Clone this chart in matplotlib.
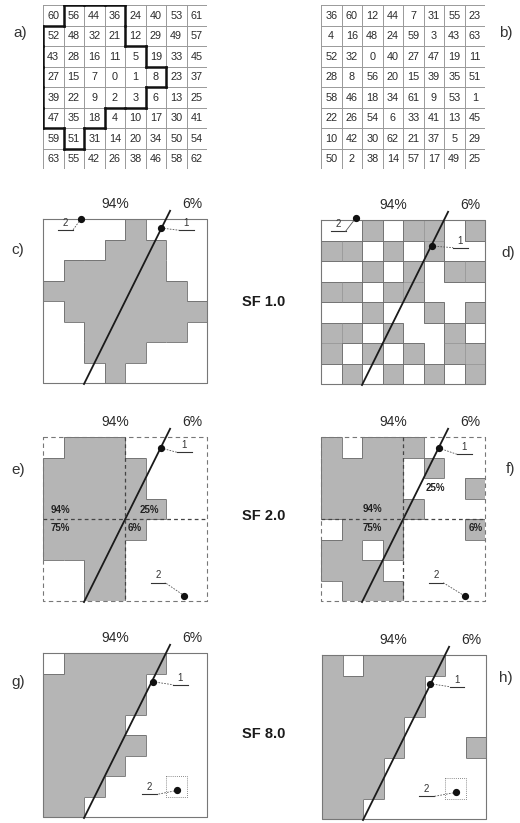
import matplotlib
matplotlib.use('Agg')
import matplotlib.pyplot as plt
import numpy as np
from matplotlib.patches import Rectangle
from matplotlib.collections import LineCollection

plt.rcParams['font.family'] = ['Liberation Sans', 'DejaVu Sans']

# ---------------- data ----------------
clustered = [[60, 56, 44, 36, 24, 40, 53, 61],
             [52, 48, 32, 21, 12, 29, 49, 57],
             [43, 28, 16, 11, 5, 19, 33, 45],
             [27, 15, 7, 0, 1, 8, 23, 37],
             [39, 22, 9, 2, 3, 6, 13, 25],
             [47, 35, 18, 4, 10, 17, 30, 41],
             [59, 51, 31, 14, 20, 34, 50, 54],
             [63, 55, 42, 26, 38, 46, 58, 62]]

dispersed = [[36, 60, 12, 44, 7, 31, 55, 23],
             [4, 16, 48, 24, 59, 3, 43, 63],
             [52, 32, 0, 40, 27, 47, 19, 11],
             [28, 8, 56, 20, 15, 39, 35, 51],
             [58, 46, 18, 34, 61, 9, 53, 1],
             [22, 26, 54, 6, 33, 41, 13, 45],
             [10, 42, 30, 62, 21, 37, 5, 29],
             [50, 2, 38, 14, 57, 17, 49, 25]]

# outlined region in panel a)
region_a = [[0, 1, 1, 1, 0, 0, 0, 0],
            [1, 1, 1, 1, 0, 0, 0, 0],
            [1, 1, 1, 1, 1, 0, 0, 0],
            [1, 1, 1, 1, 1, 1, 0, 0],
            [1, 1, 1, 1, 1, 0, 0, 0],
            [1, 1, 1, 0, 0, 0, 0, 0],
            [0, 1, 0, 0, 0, 0, 0, 0],
            [0, 0, 0, 0, 0, 0, 0, 0]]

level_sf1 = [[50]]                 # one level for the whole cell
level_sf2 = [[94, 25], [75, 6]]    # quadrant levels (%)
quad_labels = ['94%', '25%', '75%', '6%']

mask_g = [[0, 1, 1, 1, 1, 1, 0, 0],
          [1, 1, 1, 1, 1, 0, 0, 0],
          [1, 1, 1, 1, 1, 0, 0, 0],
          [1, 1, 1, 1, 0, 0, 0, 0],
          [1, 1, 1, 1, 1, 0, 0, 0],
          [1, 1, 1, 1, 0, 0, 0, 0],
          [1, 1, 1, 0, 0, 0, 0, 0],
          [1, 1, 0, 0, 0, 0, 0, 0]]

mask_h = [[1, 0, 1, 1, 1, 1, 0, 0],
          [1, 1, 1, 1, 1, 0, 0, 0],
          [1, 1, 1, 1, 1, 0, 0, 0],
          [1, 1, 1, 1, 0, 0, 0, 0],
          [1, 1, 1, 1, 0, 0, 0, 1],
          [1, 1, 1, 0, 0, 0, 0, 0],
          [1, 1, 1, 0, 0, 0, 0, 0],
          [1, 1, 0, 0, 0, 0, 0, 0]]

edge_levels = ['94%', '6%']
sf_labels = ['SF 1.0', 'SF 2.0', 'SF 8.0']
panel_letters = ['a)', 'b)', 'c)', 'd)', 'e)', 'f)', 'g)', 'h)']

GRAY = '#b5b5b5'
W, H = 520, 823


def mask_from(matrix, levels):
    m = np.array(matrix)
    lv = np.array(levels, dtype=float)
    rep = 8 // lv.shape[0]
    lv = np.kron(lv, np.ones((rep, rep)))
    thr = np.round(64 * lv / 100.0)
    return (m < thr).astype(int)


def boundary_segments(mask):
    m = np.array(mask)
    n = m.shape[0]
    p = np.zeros((n + 2, n + 2), int)
    p[1:-1, 1:-1] = m
    segs = []
    for r in range(n + 1):
        for c in range(n):
            if p[r, c + 1] != p[r + 1, c + 1]:
                segs.append([(c, r), (c + 1, r)])
    for c in range(n + 1):
        for r in range(n):
            if p[r + 1, c] != p[r + 1, c + 1]:
                segs.append([(c, r), (c, r + 1)])
    return segs


fig = plt.figure(figsize=(W / 100, H / 100), dpi=100)


def make_ax(x0, y0, size=164):
    ax = fig.add_axes([x0 / W, 1 - (y0 + size) / H, size / W, size / H])
    ax.set_xlim(0, 8)
    ax.set_ylim(8, 0)
    ax.axis('off')
    return ax


def fig_text(x, y, s, **kw):
    fig.text(x / W, 1 - y / H, s, **kw)


# ---- panels a, b: matrices ----
for (x0, matrix, outline) in [(43, clustered, region_a), (321, dispersed, None)]:
    ax = make_ax(x0, 5)
    for k in range(9):
        ax.plot([k, k], [0, 8], color='#999999', lw=0.7)
        ax.plot([0, 8], [k, k], color='#999999', lw=0.7)
    for r in range(8):
        for c in range(8):
            ax.text(c + 0.5, r + 0.52, str(matrix[r][c]), ha='center', va='center',
                    fontsize=7.8, color='#2a2a2a')
    if outline is not None:
        lc = LineCollection(boundary_segments(outline), colors='#111111', linewidths=1.8,
                            capstyle='projecting')
        ax.add_collection(lc)


def shaded_panel(x0, y0, mask, style, cell_edges=False):
    ax = make_ax(x0, y0)
    m = np.array(mask)
    for r in range(8):
        for c in range(8):
            if m[r, c]:
                ax.add_patch(Rectangle((c, r), 1, 1, fc=GRAY,
                                       ec='#8c8c8c' if cell_edges else 'none',
                                       lw=0.4))
    lc = LineCollection(boundary_segments(mask), colors='#6a6a6a', linewidths=0.6)
    ax.add_collection(lc)
    ls = '--' if style == 'dashed' else '-'
    ax.plot([0, 8, 8, 0, 0], [0, 0, 8, 8, 0], color='#777777', lw=0.8, ls=ls,
            dashes=(4, 3) if ls == '--' else (None, None), clip_on=False)
    # edge line
    ax.plot([6.2, 2.0], [-0.4, 8.05], color='#1a1a1a', lw=1.3, clip_on=False)
    ax.text(3.5, -0.72, edge_levels[0], ha='center', va='center', fontsize=10,
            color='#2a2a2a')
    ax.text(7.3, -0.72, edge_levels[1], ha='center', va='center', fontsize=10,
            color='#2a2a2a')
    return ax


def pointer(ax, dot, lab, text, dashed=True, side='right'):
    ax.plot(*dot, 'o', color='#111111', ms=4.2, clip_on=False, zorder=5)
    lx, ly = lab
    ax.text(lx, ly - 0.05, text, ha='center', va='bottom', fontsize=7,
            color='#333333')
    ax.plot([lx - 0.35, lx + 0.35], [ly + 0.05, ly + 0.05], color='#333333', lw=0.8,
            clip_on=False)
    end = (lx - 0.35, ly + 0.05) if side == 'right' else (lx + 0.35, ly + 0.05)
    ax.plot([dot[0], end[0]], [dot[1], end[1]], color='#555555', lw=0.6,
            ls=(0, (2, 1.5)) if dashed else '-', clip_on=False)


# c)
ax = shaded_panel(43, 219, mask_from(clustered, level_sf1), 'solid')
pointer(ax, (5.76, 0.44), (7.0, 0.5), '1', side='right')
pointer(ax, (1.85, 0.0), (1.1, 0.5), '2', side='left')

# d)
ax = shaded_panel(321, 220, mask_from(dispersed, level_sf1), 'solid', cell_edges=True)
pointer(ax, (5.4, 1.27), (6.8, 1.3), '1', side='right')
pointer(ax, (1.7, -0.1), (0.85, 0.5), '2', dashed=False, side='left')

# e)
ax = shaded_panel(43, 437, mask_from(clustered, level_sf2), 'dashed')
ax.plot([4, 4], [0, 8], color='#444444', lw=0.9, ls=(0, (3, 2.5)))
ax.plot([0, 8], [4, 4], color='#444444', lw=0.9, ls=(0, (3, 2.5)))
for (tx, ty), s in zip([(0.85, 3.55), (5.2, 3.55), (0.85, 4.45), (4.45, 4.45)], quad_labels):
    ax.text(tx, ty, s, ha='center', va='center', fontsize=7, fontweight='bold',
            color='#222222')
pointer(ax, (5.76, 0.54), (6.9, 0.7), '1', side='right')
pointer(ax, (6.9, 7.75), (5.6, 7.05), '2', side='left')

# f)
ax = shaded_panel(321, 437, mask_from(dispersed, level_sf2), 'dashed')
ax.plot([4, 4], [0, 8], color='#444444', lw=0.9, ls=(0, (3, 2.5)))
ax.plot([0, 8], [4, 4], color='#444444', lw=0.9, ls=(0, (3, 2.5)))
for (tx, ty), s in zip([(2.5, 3.5), (5.6, 2.5), (2.5, 4.45), (7.55, 4.45)], quad_labels):
    ax.text(tx, ty, s, ha='center', va='center', fontsize=7, fontweight='bold',
            color='#222222')
pointer(ax, (5.75, 0.54), (7.0, 0.8), '1', side='right')
pointer(ax, (7.0, 7.75), (5.6, 7.05), '2', side='left')

# g)
ax = shaded_panel(43, 653, mask_g, 'solid')
pointer(ax, (5.35, 1.4), (6.7, 1.5), '1', side='right')
pointer(ax, (6.55, 6.7), (5.2, 6.85), '2', side='left')
ax.add_patch(Rectangle((6, 6), 1, 1, fill=False, ec='#666666', lw=0.6, ls=(0, (1, 1.5))))

# h)
ax = shaded_panel(322, 655, mask_h, 'solid')
pointer(ax, (5.27, 1.4), (6.6, 1.5), '1', side='right')
pointer(ax, (6.55, 6.7), (5.1, 6.85), '2', side='left')
ax.add_patch(Rectangle((6, 6), 1, 1, fill=False, ec='#666666', lw=0.6, ls=(0, (1, 1.5))))

# SF labels
for s, yc in zip(sf_labels, [302, 516, 734]):
    fig_text(264, yc, s, ha='center', va='center', fontsize=10.5, fontweight='bold',
             color='#1a1a1a')

# panel letters
letter_pos = [(20, 33), (506, 33), (18, 250), (508, 253), (18, 470), (510, 469),
              (18, 682), (506, 678)]
for s, (x, y) in zip(panel_letters, letter_pos):
    fig_text(x, y, s, ha='center', va='center', fontsize=11, color='#333333')

fig.savefig('out.png', dpi=100)
